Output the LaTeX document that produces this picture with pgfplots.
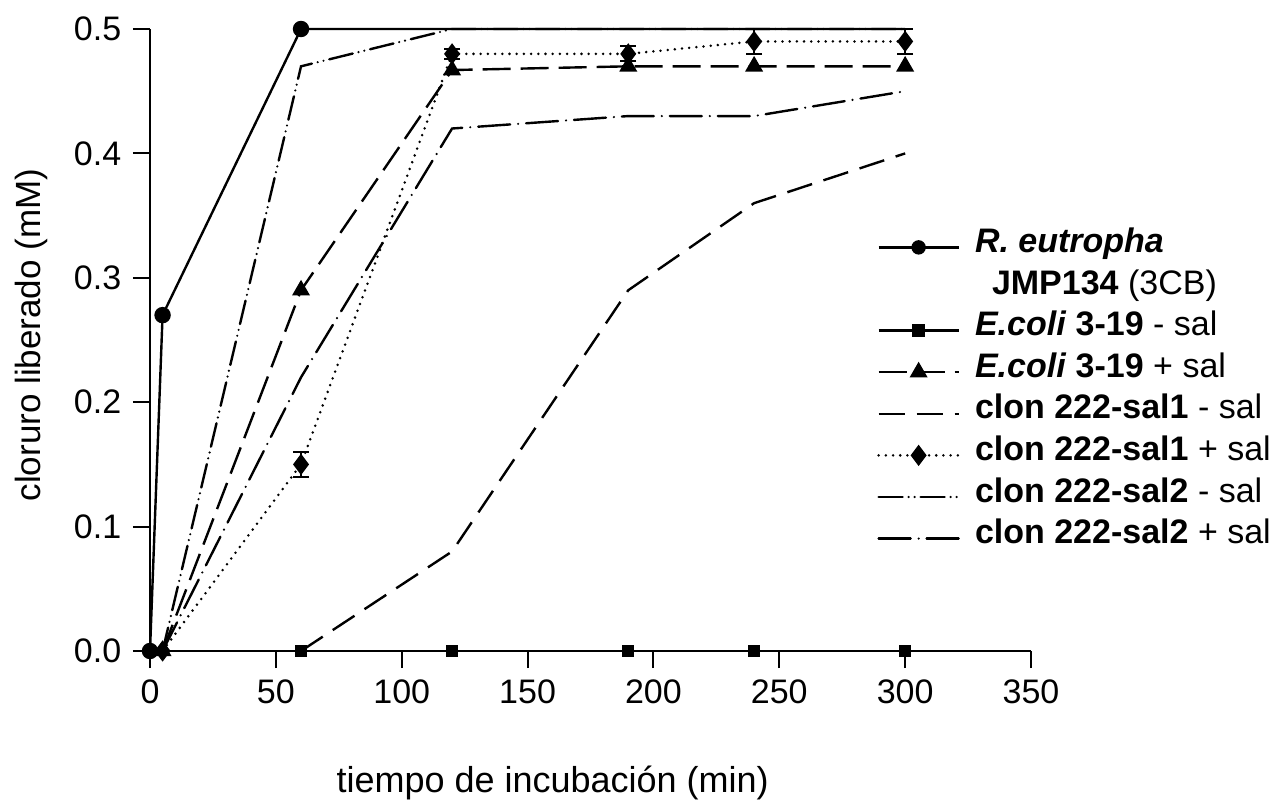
\documentclass[border=0pt]{standalone}
\usepackage{fontspec}
\setmainfont{Liberation Sans}
\usepackage{pgfplots}
\pgfplotsset{compat=1.18}
\begin{document}
\fontsize{17bp}{20bp}\selectfont
\begin{tikzpicture}
\useasboundingbox (-75bp,-77bp) rectangle (562bp,325.5bp);
\begin{axis}[
  scale only axis, width=440.5bp, height=311bp,
  xmin=0, xmax=350, ymin=0, ymax=0.5,
  clip=false,
  axis x line*=bottom, axis y line*=left,
  axis line style={line width=1.2bp},
  tick align=outside, major tick length=8.5bp,
  tick style={line width=1bp, black},
  xtick={0,50,100,150,200,250,300,350},
  ytick={0,0.1,0.2,0.3,0.4,0.5},
  /pgf/number format/assume math mode=true,
  yticklabel style={/pgf/number format/fixed, /pgf/number format/fixed zerofill, /pgf/number format/precision=1},
  ticklabel style={font=\fontsize{17bp}{20bp}\selectfont},
  xlabel={tiempo de incubación (min)},
  ylabel={cloruro liberado (mM)},
  xlabel style={at={(axis description cs:0.457,-0.212)}, anchor=center, font=\fontsize{18bp}{21bp}\selectfont},
  ylabel style={at={(axis description cs:-0.134,0.508)}, anchor=center, font=\fontsize{17.5bp}{21bp}\selectfont},
  legend style={at={(rel axis cs:0.825,0.683)}, anchor=north west, draw=none, fill=none, inner sep=0pt,
    font=\fontsize{17bp}{20bp}\selectfont, row sep=0pt, column sep=5.5bp,
    nodes={inner ysep=0pt, text height=13bp, text depth=7.8bp}},
  legend cell align=left,
  legend image code/.code={\draw[mark repeat=2,mark phase=2,#1] plot coordinates {(0bp,0bp) (20bp,0bp) (40bp,0bp)};},
  every axis plot/.append style={line width=1.2bp, black},
]
% R. eutropha JMP134
\addplot[solid, mark=*, mark size=3.5bp, mark indices={1,2,3}, mark options={solid}, forget plot] coordinates {
(0,0) (5,0.27) (60,0.5) (120,0.5) (190,0.5) (240,0.5) (300,0.5)};
\addlegendimage{solid, mark=*, mark size=3bp, line width=1.2bp, black}
\addlegendentry{\textbf{\textit{R. eutropha}}}
\addlegendimage{empty legend}
\addlegendentry{\hspace{8.5bp}\textbf{JMP134} (3CB)}
% E.coli 3-19 - sal
\addplot[solid, mark=square*, mark size=2.5bp, mark options={solid}] coordinates {
(0,0) (60,0) (120,0) (190,0) (240,0) (300,0)};
\addlegendentry{\textbf{\textit{E.coli}} \textbf{3-19} - sal}
% E.coli 3-19 + sal
\addplot[dash pattern=on 14bp off 5bp, mark=triangle*, mark size=4bp, mark options={solid}] coordinates {
(5,0) (60,0.29) (120,0.467) (190,0.47) (240,0.47) (300,0.47)};
\addlegendentry{\textbf{\textit{E.coli}} \textbf{3-19} + sal}
% clon 222-sal1 - sal
\addplot[dash pattern=on 13bp off 6bp, no marks] coordinates {
(60,0) (120,0.08) (190,0.29) (240,0.36) (300,0.40)};
\addlegendentry{\textbf{clon 222-sal1} - sal}
% clon 222-sal1 + sal
\addplot[line cap=round, dash pattern=on 0bp off 3.6bp, line width=1.4bp, mark=diamond*, mark size=4.5bp, mark options={solid, line width=1bp},
  error bars/.cd, y dir=both, y explicit, error bar style={solid, line width=1bp},
  error mark options={rotate=90, mark size=4bp, line width=1bp, solid}] coordinates {
(5,0) +- (0,0)
(60,0.15) +- (0,0.01)
(120,0.48) +- (0,0.004)
(190,0.48) +- (0,0.006)
(240,0.49) +- (0,0.01)
(300,0.49) +- (0,0.01)};
\addlegendentry{\textbf{clon 222-sal1} + sal}
% clon 222-sal2 - sal
\addplot[line cap=round, dash pattern=on 12bp off 3bp on 0bp off 3bp on 0bp off 3bp, no marks] coordinates {
(5,0) (60,0.47) (120,0.5) (190,0.5) (240,0.5) (300,0.5)};
\addlegendentry{\textbf{clon 222-sal2} - sal}
% clon 222-sal2 + sal
\addplot[line cap=round, dash pattern=on 16bp off 4bp on 0bp off 4bp, no marks] coordinates {
(5,0) (60,0.22) (120,0.42) (190,0.43) (240,0.43) (300,0.45)};
\addlegendentry{\textbf{clon 222-sal2} + sal}
\end{axis}
\end{tikzpicture}
\end{document}
